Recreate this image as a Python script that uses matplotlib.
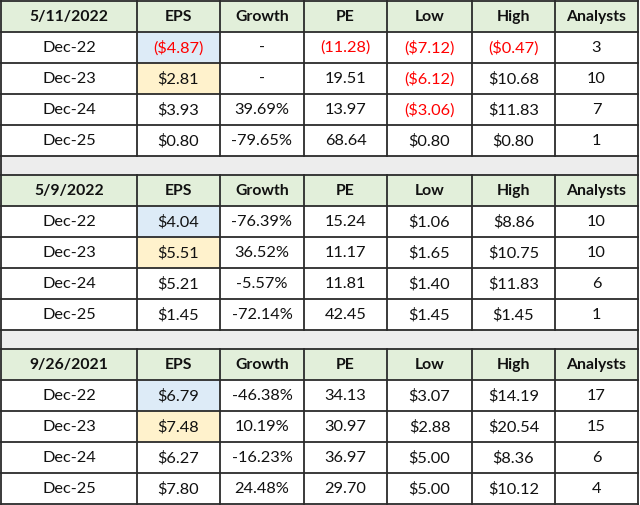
import matplotlib
matplotlib.use("Agg")
import matplotlib.pyplot as plt
from matplotlib.patches import Rectangle

plt.rcParams['font.family'] = ['Lato', 'DejaVu Sans']

# ---- data ----
headers = ["EPS", "Growth", "PE", "Low", "High", "Analysts"]
dates = ["5/11/2022", "5/9/2022", "9/26/2021"]
periods = ["Dec-22", "Dec-23", "Dec-24", "Dec-25"]

eps_511 = ["($4.87)", "$2.81", "$3.93", "$0.80"]
growth_511 = ["-", "-", "39.69%", "-79.65%"]
pe_511 = ["(11.28)", "19.51", "13.97", "68.64"]
low_511 = ["($7.12)", "($6.12)", "($3.06)", "$0.80"]
high_511 = ["($0.47)", "$10.68", "$11.83", "$0.80"]
analysts_511 = ["3", "10", "7", "1"]

eps_59 = ["$4.04", "$5.51", "$5.21", "$1.45"]
growth_59 = ["-76.39%", "36.52%", "-5.57%", "-72.14%"]
pe_59 = ["15.24", "11.17", "11.81", "42.45"]
low_59 = ["$1.06", "$1.65", "$1.40", "$1.45"]
high_59 = ["$8.86", "$10.75", "$11.83", "$1.45"]
analysts_59 = ["10", "10", "6", "1"]

eps_926 = ["$6.79", "$7.48", "$6.27", "$7.80"]
growth_926 = ["-46.38%", "10.19%", "-16.23%", "24.48%"]
pe_926 = ["34.13", "30.97", "36.97", "29.70"]
low_926 = ["$3.07", "$2.88", "$5.00", "$5.00"]
high_926 = ["$14.19", "$20.54", "$8.36", "$10.12"]
analysts_926 = ["17", "15", "6", "4"]

blocks = [
    [eps_511, growth_511, pe_511, low_511, high_511, analysts_511],
    [eps_59, growth_59, pe_59, low_59, high_59, analysts_59],
    [eps_926, growth_926, pe_926, low_926, high_926, analysts_926],
]

# ---- layout ----
W, H = 640, 505
col_edges = [1, 137, 220, 304, 387, 472, 555, 638]
row_h = 31
spacer_h = 19
top = 1

header_bg = "#E2EFDA"
blue_bg = "#DDEBF7"
yellow_bg = "#FFF2CC"
spacer_bg = "#EDEDED"
line_c = "#2b2b2b"
text_c = "#111111"
red_c = "#FF0000"
fs = 11.8
fs_head = 11.3

fig = plt.figure(figsize=(W / 100, H / 100), dpi=100)
ax = fig.add_axes([0, 0, 1, 1])
ax.set_xlim(0, W)
ax.set_ylim(H, 0)
ax.axis("off")

def hline(y, x0, x1):
    ax.plot([x0, x1], [y, y], color=line_c, lw=1.3, solid_capstyle="projecting")

def vline(x, y0, y1):
    ax.plot([x, x], [y0, y1], color=line_c, lw=1.3, solid_capstyle="projecting")

y = top
for b, (date, cols) in enumerate(zip(dates, blocks)):
    y0 = y
    # header
    ax.add_patch(Rectangle((col_edges[0], y), col_edges[-1] - col_edges[0], row_h,
                           facecolor=header_bg, edgecolor="none"))
    labels = [date] + headers
    for c, lab in enumerate(labels):
        xc = (col_edges[c] + col_edges[c + 1]) / 2
        ax.text(xc, y + row_h / 2 + 0.5, lab, ha="center", va="center",
                fontsize=fs_head, fontweight="bold", color=text_c)
    y += row_h
    for r, per in enumerate(periods):
        if r == 0:
            ax.add_patch(Rectangle((col_edges[1], y), col_edges[2] - col_edges[1], row_h,
                                   facecolor=blue_bg, edgecolor="none"))
        elif r == 1:
            ax.add_patch(Rectangle((col_edges[1], y), col_edges[2] - col_edges[1], row_h,
                                   facecolor=yellow_bg, edgecolor="none"))
        vals = [per] + [col[r] for col in cols]
        for c, v in enumerate(vals):
            xc = (col_edges[c] + col_edges[c + 1]) / 2
            color = red_c if v.startswith("(") else text_c
            ax.text(xc, y + row_h / 2 + 0.5, v, ha="center", va="center",
                    fontsize=fs, color=color)
        y += row_h
    # grid of block
    for k in range(6):
        hline(y0 + k * row_h, col_edges[0], col_edges[-1])
    for x in col_edges:
        vline(x, y0, y)
    if b < len(dates) - 1:
        ax.add_patch(Rectangle((col_edges[0], y), col_edges[-1] - col_edges[0], spacer_h,
                               facecolor=spacer_bg, edgecolor="none"))
        vline(col_edges[0], y, y + spacer_h)
        vline(col_edges[-1], y, y + spacer_h)
        y += spacer_h

fig.savefig("out.png", dpi=100)
